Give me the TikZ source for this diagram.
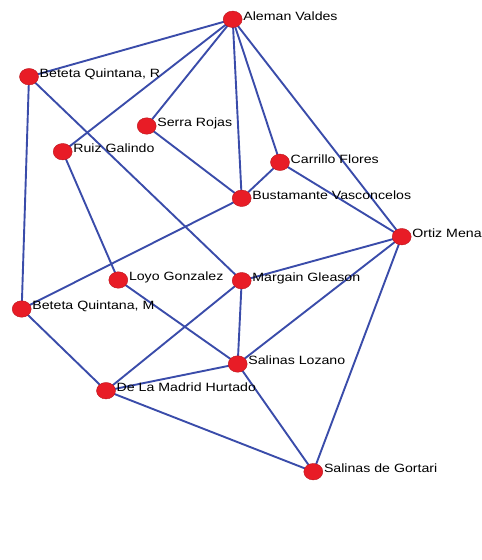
\documentclass[tikz,border=0pt]{standalone}
\usepackage{fontspec}
\newfontfamily\labfont[FakeStretch=1.18]{Liberation Sans}
\usetikzlibrary{backgrounds,shapes.geometric}
\definecolor{edgeblue}{RGB}{58,76,170}
\definecolor{nodered}{RGB}{232,28,38}
\tikzset{
  pt/.style={ellipse, minimum width=19pt, minimum height=16.5pt, inner sep=0pt, fill=nodered, draw=nodered!80!black, line width=0.4pt},
  lab/.style={font=\labfont\fontsize{12}{14}\selectfont, inner sep=0pt, anchor=base west, text=black},
  edge/.style={draw=edgeblue, line width=1.9pt}
}
\newcommand\pn[4]{\node[pt] (#1) at (#2,#3) {}; \node[lab] (#1-l) at (#2+10.5,#3+0.8) {#4};}
\begin{document}
\begin{tikzpicture}[x=1pt,y=-1pt]
\useasboundingbox (0,0) rectangle (482,560);
\pn{av}{232.7}{19.3}{Aleman Valdes}
\pn{br}{29}{76.7}{Beteta Quintana, R}
\pn{sr}{146.7}{126}{Serra Rojas}
\pn{rg}{62.7}{151.7}{Ruiz Galindo}
\pn{cf}{280}{162.3}{Carrillo Flores}
\pn{bv}{241.7}{198.3}{Bustamante Vasconcelos}
\pn{om}{401.7}{236.7}{Ortiz Mena}
\pn{lg}{118.3}{280}{Loyo Gonzalez}
\pn{mg}{241.7}{280.7}{Margain Gleason}
\pn{bm}{21.7}{309}{Beteta Quintana, M}
\pn{sl}{237.7}{364}{Salinas Lozano}
\pn{dm}{106}{390.7}{De La Madrid Hurtado}
\pn{sg}{313.3}{471.7}{Salinas de Gortari}
\begin{scope}[on background layer]
\draw[edge] (av.center) -- (br.center);
\draw[edge] (av.center) -- (rg.center);
\draw[edge] (av.center) -- (sr.center);
\draw[edge] (av.center) -- (bv.center);
\draw[edge] (av.center) -- (cf.center);
\draw[edge] (av.center) -- (om.center);
\draw[edge] (br.center) -- (bm.center);
\draw[edge] (br.center) -- (mg.center);
\draw[edge] (sr.center) -- (bv.center);
\draw[edge] (rg.center) -- (lg.center);
\draw[edge] (cf.center) -- (bv.center);
\draw[edge] (cf.center) -- (om.center);
\draw[edge] (bv.center) -- (bm.center);
\draw[edge] (om.center) -- (mg.center);
\draw[edge] (om.center) -- (sl.center);
\draw[edge] (om.center) -- (sg.center);
\draw[edge] (lg.center) -- (sl.center);
\draw[edge] (mg.center) -- (sl.center);
\draw[edge] (mg.center) -- (dm.center);
\draw[edge] (bm.center) -- (dm.center);
\draw[edge] (dm.center) -- (sl.center);
\draw[edge] (dm.center) -- (sg.center);
\draw[edge] (sl.center) -- (sg.center);
\end{scope}
\end{tikzpicture}
\end{document}
